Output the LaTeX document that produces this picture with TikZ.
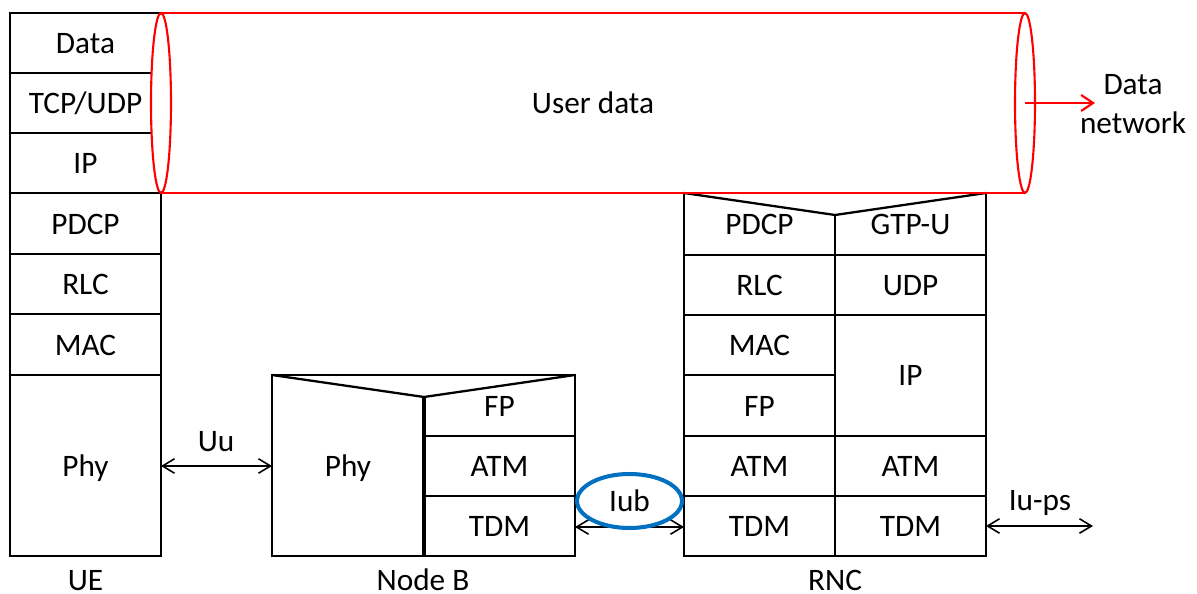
\documentclass[tikz,border=0pt]{standalone}
\usepackage{fontspec}
\setmainfont{Carlito}
\usetikzlibrary{arrows.meta,shapes.geometric}
\definecolor{pipe}{RGB}{255,0,0}
\definecolor{iface}{RGB}{0,112,192}
\begin{document}
\begin{tikzpicture}[x=0.02cm,y=-0.02cm,
  frame/.style={line width=1.3pt, line join=miter},
  lbl/.style={inner sep=0pt, text height=11.5pt, text depth=0pt, font=\fontsize{17.8}{21}\selectfont},
  barb/.tip={Straight Barb[length=2.4mm,width=2.9mm,line width=0.9pt]},
  link/.style={line width=0.9pt, barb-barb},
]
\useasboundingbox (0,0) rectangle (1197,594);

% ---- UE protocol stack
\draw[frame] (10,13) rectangle (161,556);
\foreach \y in {73,133,193,254,314,375} \draw[frame] (10,\y) -- (161,\y);
\node[lbl] (ueData) at (85.5,43)  {Data};
\node[lbl] (ueTcp)  at (85.5,103) {TCP/UDP};
\node[lbl] (ueIp)   at (85.5,163) {IP};
\node[lbl] (uePdcp) at (85.5,224) {PDCP};
\node[lbl] (ueRlc)  at (85.5,284) {RLC};
\node[lbl] (ueMac)  at (85.5,345) {MAC};
\node[lbl] (uePhy)  at (85.5,466) {Phy};
\node[lbl] (ueName) at (85.5,580) {UE};

% ---- Node B
\draw[frame] (272,375) rectangle (575,556);
\draw[frame] (272,375) -- (424,397) -- (575,375);
\draw[line width=1.8pt] (424,397) -- (424,556);
\draw[frame] (424,436) -- (575,436) (424,496) -- (575,496);
\node[lbl] (nbPhy) at (348,466)   {Phy};
\node[lbl] (nbFp)  at (499.5,406) {FP};
\node[lbl] (nbAtm) at (499.5,466) {ATM};
\node[lbl] (nbTdm) at (499.5,526) {TDM};
\node[lbl] (nbName) at (423,580) {Node B};

% ---- RNC
\draw[frame] (684,193) rectangle (986,556);
\draw[frame] (684,193) -- (835,215) -- (986,193);
\draw[frame] (835,215) -- (835,556);
\foreach \y in {255,315,375,436,496} \draw[frame] (684,\y) -- (835,\y);
\foreach \y in {255,315,436,496} \draw[frame] (835,\y) -- (986,\y);
\node[lbl] (rnPdcp) at (759.5,224) {PDCP};
\node[lbl] (rnRlc)  at (759.5,285) {RLC};
\node[lbl] (rnMac)  at (759.5,345) {MAC};
\node[lbl] (rnFp)   at (759.5,406) {FP};
\node[lbl] (rnAtmL) at (759.5,466) {ATM};
\node[lbl] (rnTdmL) at (759.5,526) {TDM};
\node[lbl] (rnGtp)  at (910.5,224) {GTP-U};
\node[lbl] (rnUdp)  at (910.5,285) {UDP};
\node[lbl] (rnIp)   at (910.5,375.5) {IP};
\node[lbl] (rnAtmR) at (910.5,466) {ATM};
\node[lbl] (rnTdmR) at (910.5,526) {TDM};
\node[lbl] (rnName) at (835,580) {RNC};

% ---- user-plane tunnel
\draw[pipe, line width=1.2pt] (161,13) -- (1025,13) (161,193) -- (1025,193);
\draw[pipe, line width=1.2pt, fill=white] (161,103) ellipse [x radius=0.2cm, y radius=1.8cm];
\draw[pipe, line width=1.2pt] (1025,103) ellipse [x radius=0.2cm, y radius=1.8cm];
\node[lbl] (user) at (593,103) {User data};
\coordinate (pipeEnd) at (1025,103);
\coordinate (netIn) at (1095,103);
\draw[pipe, line width=1.2pt, -{Straight Barb[length=2.4mm,width=3.2mm,line width=1.2pt]}] (pipeEnd) -- (netIn);
\node[align=center, inner sep=0pt, font=\fontsize{17.8}{22}\selectfont] (dataNet) at (1133,104) {Data\\network};

% ---- interfaces
\coordinate (uuA) at (161,466);
\coordinate (uuB) at (272,466);
\draw[link] (uuA) -- (uuB);
\node[lbl] (uu) at (216,441) {Uu};

\coordinate (iubA) at (575,527);
\coordinate (iubB) at (684,527);
\draw[link] (iubA) -- (iubB);
\node[lbl, ellipse, draw=iface, line width=2.3pt, minimum width=2.1cm, minimum height=1.08cm] (iub) at (629.5,501) {Iub};

\coordinate (iuA) at (986,526);
\coordinate (iuB) at (1093,526);
\draw[link] (iuA) -- (iuB);
\node[lbl] (iups) at (1040,500) {Iu-ps};
\end{tikzpicture}
\end{document}
